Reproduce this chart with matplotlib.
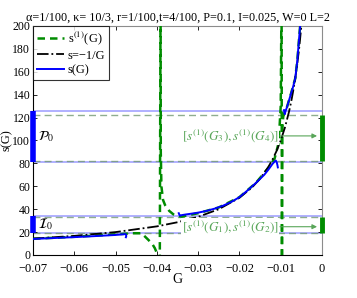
import numpy as np
import matplotlib
matplotlib.use('Agg')
import matplotlib.pyplot as plt

plt.rcParams['font.family'] = ['Liberation Serif', 'DejaVu Serif']
plt.rcParams['mathtext.fontset'] = 'stix'

# --- data ---
# s(G), three pieces
g_s1 = [-0.07, -0.065, -0.06, -0.055, -0.05, -0.048, -0.0478, -0.0475, -0.0474, -0.0475]
s_s1 = [14.0, 14.8, 15.6, 16.5, 17.5, 18.1, 18.3, 18.0, 16.5, 15.5]
g_s2 = [-0.0347, -0.0345, -0.0343, -0.034, -0.033, -0.032, -0.03, -0.028, -0.026, -0.024,
        -0.022, -0.02, -0.018, -0.016, -0.014, -0.013, -0.012, -0.0115, -0.0112, -0.011,
        -0.0108, -0.0107]
s_s2 = [36.5, 34.8, 34.3, 34.8, 35.4, 35.9, 37.0, 38.5, 40.5, 43.0,
        46.3, 50.5, 56.5, 63.0, 70.0, 74.5, 79.5, 81.5, 82.5, 81.5,
        78.5, 76.5]
g_s3 = [-0.0092, -0.0091, -0.009, -0.00885, -0.0085, -0.008, -0.0075, -0.007, -0.0065,
        -0.006, -0.0056, -0.0053, -0.0051]
s_s3 = [126.5, 124.0, 123.0, 125.5, 129.0, 135.0, 141.0, 147.0, 154.0,
        169.0, 187.0, 200.0, 212.0]

# s = -1/G
g_inv = [-0.07, -0.06, -0.05, -0.04, -0.035, -0.03, -0.025, -0.02, -0.017, -0.015, -0.013,
         -0.012, -0.011, -0.01, -0.009, -0.008, -0.0075, -0.007, -0.0065, -0.006, -0.0055,
         -0.005, -0.0045]
s_inv = [14.3, 16.7, 20.0, 25.0, 28.6, 33.3, 40.0, 50.0, 58.8, 66.7, 76.9,
         83.3, 90.9, 100.0, 111.1, 125.0, 133.3, 142.9, 153.8, 166.7, 181.8,
         200.0, 222.2]

# s^(1)(G)
g_s1st = [-0.07, -0.06, -0.05, -0.046, -0.0437, -0.042, -0.041, -0.0405, -0.0398, -0.0393,
          -0.0391, -0.03905, -0.0389, -0.0385, -0.038, -0.037, -0.036, -0.035, -0.034,
          -0.032, -0.03, -0.025, -0.02, -0.016, -0.013, -0.0115, -0.0105, -0.01, -0.0098,
          -0.0097, -0.00965, -0.0096, -0.0094, -0.0091, -0.0085, -0.0075, -0.0065, -0.006,
          -0.0056, -0.0053, -0.0051]
s_s1st = [14.2, 15.9, 18.0, 19.0, 19.0, 13.0, 9.0, 6.0, 0.0, -20.0,
          230.0, 90.0, 60.0, 48.0, 43.5, 38.5, 35.5, 34.0, 33.5,
          35.0, 36.5, 41.5, 50.5, 63.0, 76.0, 84.0, 98.0, 130.0, 230.0,
          -20.0, 60.0, 110.0, 121.0, 124.0, 129.0, 141.0, 154.0, 169.0,
          187.0, 200.0, 212.0]

# intervals
P0 = [81.0, 125.8]
I0 = [19.5, 34.0]
s1_G34 = [82.1, 122.3]
s1_G12 = [19.0, 33.0]

xticks = [-0.07, -0.06, -0.05, -0.04, -0.03, -0.02, -0.01, 0]
xticklabels = ['\u22120.07', '\u22120.06', '\u22120.05', '\u22120.04', '\u22120.03',
               '\u22120.02', '\u22120.01', '0']
yticks = list(range(0, 201, 20))

green = (0.0, 0.55, 0.0)
pale_green = (0.35, 0.65, 0.35)

fig = plt.figure(figsize=(3.57, 2.98), dpi=100)
ax = fig.add_axes([0.0924, 0.1443, 0.8096, 0.7685])

# interval boundaries
for v in P0 + I0:
    ax.axhline(v, color=(0.45, 0.45, 1.0), lw=1.3, alpha=0.6, zorder=1)
for v in s1_G34 + s1_G12:
    ax.axhline(v, color=(0.45, 0.6, 0.45), lw=1.0, ls=(0, (5, 3)), alpha=0.8, zorder=1)

ax.plot(g_s1st, s_s1st, color=green, lw=1.8, ls=(0, (3, 2)), label='s$^{(1)}$(G)', zorder=3)
ax.plot(g_inv, s_inv, color='k', lw=1.3, ls='-.', label='s=\u22121/G', zorder=4)
ax.plot(g_s1, s_s1, color='b', lw=1.4, label='s(G)', zorder=5)
ax.plot(g_s2, s_s2, color='b', lw=1.4, zorder=5)
ax.plot(g_s3, s_s3, color='b', lw=1.4, zorder=5)

# thick interval bars
ax.plot([-0.07, -0.07], P0, color='b', lw=4, solid_capstyle='butt', zorder=6, clip_on=False)
ax.plot([-0.07, -0.07], I0, color='b', lw=4, solid_capstyle='butt', zorder=6, clip_on=False)
ax.plot([0, 0], s1_G34, color=green, lw=3.5, solid_capstyle='butt', zorder=6, clip_on=False)
ax.plot([0, 0], s1_G12, color=green, lw=3.5, solid_capstyle='butt', zorder=6, clip_on=False)

ax.text(-0.0688, np.mean(P0), r'$\mathcal{P}_0$', fontsize=10, va='center', ha='left')
ax.text(-0.0688, np.mean(I0), r'$\mathcal{I}_0$', fontsize=10, va='center', ha='left')

ax.text(-0.0105, 104, r'$[s^{(1)}(G_3),s^{(1)}(G_4)]$', color=pale_green, fontsize=9.5,
        ha='right', va='center', zorder=7,
        bbox=dict(facecolor='white', edgecolor='none', pad=0.5))
ax.text(-0.0105, 24.7, r'$[s^{(1)}(G_1),s^{(1)}(G_2)]$', color=pale_green, fontsize=9.5,
        ha='right', va='center', zorder=7,
        bbox=dict(facecolor='white', edgecolor='none', pad=0.5))
for yv in [104, 24.7]:
    ax.annotate('', xy=(-0.0012, yv), xytext=(-0.0102, yv), zorder=7,
                arrowprops=dict(arrowstyle='-|>', color=pale_green, lw=0.8,
                                mutation_scale=7, shrinkA=0, shrinkB=0))

ax.set_xlim(-0.07, 0)
ax.set_ylim(0, 200)
ax.set_xticks(xticks)
ax.set_xticklabels(xticklabels)
ax.set_yticks(yticks)
ax.tick_params(direction='in', top=True, right=True, labelsize=8.5, length=3, width=0.6,
               pad=2)
ax.tick_params(axis='x', labelsize=9, pad=5.5)
for side in ['top', 'right']:
    ax.spines[side].set_color('0.55')
for side in ['left', 'bottom']:
    ax.spines[side].set_color('k')
    ax.spines[side].set_linewidth(0.8)

ax.set_xlabel('G', fontsize=10, labelpad=-1)
ax.set_ylabel('s(G)', fontsize=9, labelpad=0)
ax.set_title('\u03b1=1/100, \u03ba= 10/3, r=1/100,t=4/100, P=0.1, I=0.025, W=0 L=2',
             fontsize=8.7, pad=4)

leg = ax.legend(loc='upper left', fontsize=9, frameon=True, fancybox=False,
                borderpad=0.3, labelspacing=0.2, handlelength=2.2, handletextpad=0.3,
                borderaxespad=0.0)
leg.get_frame().set_edgecolor('k')
leg.get_frame().set_linewidth(0.8)

fig.savefig('out.png', dpi=100)
